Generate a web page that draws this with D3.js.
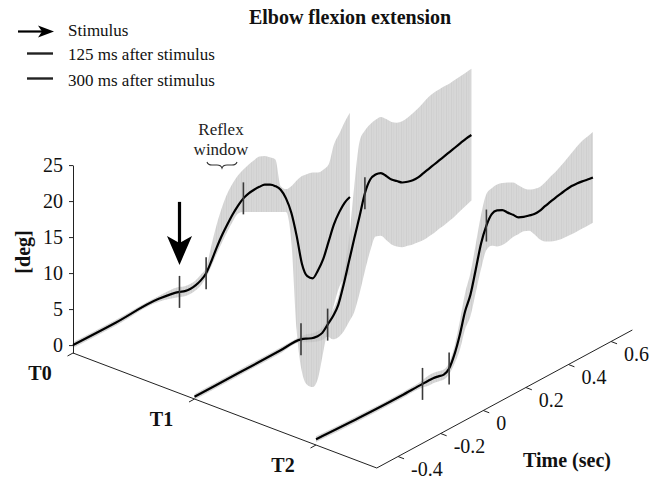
<!DOCTYPE html>
<html><head><meta charset="utf-8">
<script src="https://cdn.jsdelivr.net/npm/d3@7/dist/d3.min.js"></script>
<style>
body{margin:0;background:#fff}
svg{display:block}
</style>
</head><body>
<svg id="c" width="662" height="481" font-family="'Liberation Serif', 'DejaVu Serif', serif"></svg>
<script>
// ---------- data ----------
const times = [-0.5,-0.3,-0.1,0,0.025,0.05,0.075,0.1,0.125,0.15,0.175,0.2,0.225,0.25,0.275,0.3,0.325,0.35,0.375,0.4,0.425,0.45,0.475,0.5,0.525,0.55,0.575,0.6,0.625,0.65,0.675,0.7,0.725,0.75,0.775,0.8];

const meanT0  = [0,-0.1,0,-0.6,-0.9,-1.0,-0.9,-0.6,0,1.3,2.8,4.1,5.2,6.2,7.0,7.6,7.9,8.0,8.0,7.9,7.5,6.9,6.0,4.4,2.0,-1.6,-5.9,-8.0,-8.7,-8.0,-6.8,-4.8,-2.8,-1.5,-0.6,-0.2];
const upperT0 = [0.4,0.3,0.4,0.1,-0.2,-0.3,-0.2,0.2,0.8,3.5,6.0,8.0,9.5,10.5,11.2,11.6,11.9,12.1,12.2,11.9,11.3,10.6,6.5,5.7,5.7,6.1,6.3,6.2,6.0,5.6,5.6,5.9,8.3,9.4,10.6,11.5];
const lowerT0 = [-0.4,-0.5,-0.4,-1.3,-1.6,-1.7,-1.6,-1.3,-0.6,0.6,1.9,3.1,4.2,5.2,5.9,5.7,5.3,4.9,4.5,4.1,3.7,3.3,2.9,2.5,-2.0,-14.7,-20.9,-23.1,-23.8,-23.0,-19.7,-16.4,-14.0,-11.9,-11.0,-11.0];

const meanT1  = [-0.8,-0.8,-0.8,-0.8,-1.1,-1.45,-1.6,-1.5,-0.75,0.0,1.2,3.6,6.4,9.2,11.9,14.7,16.2,16.5,16.3,15.5,14.6,14.0,13.4,13.1,12.9,12.9,13.1,13.3,13.5,13.7,13.9,14.1,14.3,14.5,14.7,14.8];
const upperT1 = [-0.4,-0.4,-0.4,-0.4,-0.5,-0.8,-0.9,-0.8,0.0,0.9,2.3,5.1,9.4,16.5,22.3,23.4,23.9,24.1,24.1,23.4,22.6,22.1,21.9,22.0,22.2,22.5,22.9,23.3,23.5,23.55,23.6,23.6,23.7,23.8,23.9,24.0];
const lowerT1 = [-1.2,-1.2,-1.2,-1.2,-1.6,-2.0,-2.3,-2.5,-2.4,-3.2,-3.3,-2.9,-2.0,-1.0,1.2,3.9,6.3,7.9,7.6,6.6,5.6,4.9,4.4,4.2,4.0,3.9,3.8,3.9,4.0,4.2,4.35,4.55,4.8,5.1,5.4,5.7];

const meanT2  = [-0.3,-0.55,-0.65,-0.6,-0.6,-0.6,-0.75,-0.9,-0.45,1.1,3.4,6.3,8.2,11.3,14.5,16.6,17.8,17.9,17.55,16.8,16.1,15.35,15.0,14.8,14.6,14.65,14.9,15.1,15.3,15.45,15.6,15.7,15.65,15.55,15.4,15.3];
const upperT2 = [0.1,-0.15,-0.25,-0.1,0.1,0.1,-0.05,-0.2,0.35,2.2,5.3,8.8,11.2,14.8,18.5,21.0,21.4,21.5,21.3,21.0,20.6,19.8,19.0,18.4,18.1,17.95,18.2,18.6,18.9,19.3,19.8,20.3,20.8,21.2,21.4,21.6];
const lowerT2 = [-0.7,-0.95,-1.05,-1.1,-1.3,-1.3,-1.45,-1.6,-1.25,-0.2,1.3,3.8,5.2,8.1,11.0,13.2,13.4,12.9,12.7,12.8,13.0,13.0,13.0,12.7,11.8,10.7,10.0,9.6,9.3,9.1,9.05,9.0,9.0,9.0,9.0,9.0];

const trialLabels = ["T0","T1","T2"];
const trialIndex  = [0,1,2];
const zTicks      = [0,5,10,15,20,25];
const timeTicks   = [-0.4,-0.2,0,0.2,0.4,0.6];
const markerTimes = [0,0.125,0.3];
const legendLabels = ["Stimulus","125 ms after stimulus","300 ms after stimulus"];
const titleText = "Elbow flexion extension";

const means  = [meanT0, meanT1, meanT2];
const uppers = [upperT0, upperT1, upperT2];
const lowers = [lowerT0, lowerT1, lowerT2];

const FONT = "'Liberation Serif', 'DejaVu Serif', serif";

// ---------- oblique 3-D projection built from linear scales ----------
const tX = d3.scaleLinear().domain([-0.5,0.7]).range([0,255.6]);
const tY = d3.scaleLinear().domain([-0.5,0.7]).range([0,-138]);
const kX = d3.scaleLinear().domain([0,2.5]).range([73,376.75]);
const kY = d3.scaleLinear().domain([0,2.5]).range([353,468]);
const zS = d3.scaleLinear().domain([-1.1,25]).range([0,-187.92]);
const PX = (t,k) => kX(k) + tX(t);
const PY = (t,k,z) => kY(k) + tY(t) + zS(z);
const T_MIN = -0.5, T_MAX = 0.7, K_MAX = 2.5, Z_MIN = -1.1;

const svg = d3.select("#c");
const defs = svg.append("defs");
const pat = defs.append("pattern").attr("id","hatch").attr("patternUnits","userSpaceOnUse")
  .attr("width",5).attr("height",20);
pat.append("rect").attr("width",5).attr("height",20).attr("fill","#c7c7c7");
pat.append("rect").attr("x",1).attr("width",0.8).attr("height",20).attr("fill","#b9b9b9");
pat.append("rect").attr("x",3.5).attr("width",0.6).attr("height",20).attr("fill","#bebebe");

// ---------- bands ----------
const gBands = svg.append("g");
trialIndex.forEach((k,i) => {
  const rows = times.map((t,j) => ({t, m: means[i][j], u: uppers[i][j], l: lowers[i][j]}));
  const area = d3.area().curve(d3.curveMonotoneX)
    .x(d => PX(d.t,k)).y0(d => PY(d.t,k,d.l)).y1(d => PY(d.t,k,d.u));
  gBands.append("path").attr("d", area(rows))
    .attr("fill","url(#hatch)").attr("fill-opacity",0.72);
});

// ---------- axes ----------
const gAx = svg.append("g").attr("stroke","#222").attr("stroke-width",1).attr("fill","none");
gAx.append("line")
  .attr("x1",PX(T_MIN,0)).attr("y1",PY(T_MIN,0,Z_MIN))
  .attr("x2",PX(T_MIN,K_MAX)).attr("y2",PY(T_MIN,K_MAX,Z_MIN));
gAx.append("line")
  .attr("x1",PX(T_MIN,K_MAX)).attr("y1",PY(T_MIN,K_MAX,Z_MIN))
  .attr("x2",PX(T_MAX,K_MAX)).attr("y2",PY(T_MAX,K_MAX,Z_MIN));
trialIndex.forEach(k => {
  const x = PX(T_MIN,k), y = PY(T_MIN,k,Z_MIN);
  gAx.append("line").attr("x1",x).attr("y1",y).attr("x2",x-5.5).attr("y2",y+3);
});
timeTicks.forEach(t => {
  const x = PX(t,K_MAX), y = PY(t,K_MAX,Z_MIN);
  gAx.append("line").attr("x1",x).attr("y1",y).attr("x2",x+6).attr("y2",y+2.3);
});
const zAxisScale = d3.scaleLinear().domain([Z_MIN,25]).range([PY(T_MIN,0,Z_MIN), PY(T_MIN,0,25)]);
const zAxis = svg.append("g").attr("transform",`translate(${PX(T_MIN,0)},0)`)
  .call(d3.axisLeft(zAxisScale).tickValues(zTicks).tickSize(4).tickSizeOuter(0).tickPadding(6));
zAxis.attr("font-family",FONT).attr("font-size",20);
zAxis.selectAll("path,line").attr("stroke","#222");
zAxis.selectAll("text").attr("fill","#111");

// axis labels
const lab = svg.append("g").attr("fill","#111");
trialIndex.forEach((k,i) => {
  lab.append("text").attr("x",PX(T_MIN,k)-33).attr("y",PY(T_MIN,k,Z_MIN)+22)
    .attr("text-anchor","middle").attr("dominant-baseline","middle")
    .attr("font-size",20).attr("font-weight","bold").text(trialLabels[i]);
});
timeTicks.forEach(t => {
  lab.append("text").attr("x",PX(t,K_MAX)+13).attr("y",PY(t,K_MAX,Z_MIN)+15)
    .attr("dominant-baseline","middle").attr("font-size",20)
    .text(t < 0 ? "-" + Math.abs(t) : String(t));
});
lab.append("text").attr("x",567).attr("y",467).attr("text-anchor","middle")
  .attr("font-size",20).attr("font-weight","bold").text("Time (sec)");
lab.append("text").attr("transform","translate(30,252) rotate(-90)").attr("text-anchor","middle")
  .attr("font-size",20).attr("font-weight","bold").text("[deg]");

// ---------- mean curves ----------
const gLines = svg.append("g");
trialIndex.forEach((k,i) => {
  const rows = times.map((t,j) => ({t, m: means[i][j]}));
  const line = d3.line().curve(d3.curveMonotoneX).x(d => PX(d.t,k)).y(d => PY(d.t,k,d.m));
  gLines.append("path").attr("d", line(rows)).attr("fill","none")
    .attr("stroke","#000").attr("stroke-width",2.2).attr("stroke-linejoin","round");
});

// ---------- event markers ----------
const gMk = svg.append("g").attr("stroke","#3a3a3a").attr("stroke-width",1.6);
trialIndex.forEach((k,i) => {
  const interp = d3.scaleLinear().domain(times).range(means[i]);
  markerTimes.forEach(mt => {
    const x = PX(mt,k), y = PY(mt,k,interp(mt));
    gMk.append("line").attr("x1",x).attr("x2",x).attr("y1",y-16).attr("y2",y+16);
  });
});

// ---------- stimulus arrow ----------
{
  const x = PX(0,0), y = PY(0,0,meanT0[times.indexOf(0)]);
  const tip = y - 27, top = y - 90;
  svg.append("rect").attr("x",x-1.6).attr("y",top).attr("width",3.2).attr("height",tip-top-10).attr("fill","#000");
  svg.append("path").attr("fill","#000")
    .attr("d",`M${x},${tip} L${x-12.5},${tip-29} L${x},${tip-22} L${x+12.5},${tip-29} Z`);
}

// ---------- reflex window annotation ----------
const ann = svg.append("g").attr("fill","#222").attr("font-size",17);
ann.append("text").attr("x",221).attr("y",135).attr("text-anchor","middle").text("Reflex");
ann.append("text").attr("x",221).attr("y",155).attr("text-anchor","middle").text("window");
svg.append("path").attr("fill","none").attr("stroke","#333").attr("stroke-width",1.1)
  .attr("d","M207,162 q1,3 5,3 h5 q4,0 5,3 q1,-3 5,-3 h5 q4,0 5,-3");

// ---------- legend ----------
const lg = svg.append("g");
lg.append("line").attr("x1",18).attr("x2",44).attr("y1",31.5).attr("y2",31.5).attr("stroke","#000").attr("stroke-width",2.2);
lg.append("path").attr("fill","#000").attr("d","M54,31.5 L38,25.5 L42,31.5 L38,37.5 Z");
lg.append("line").attr("x1",27).attr("x2",53).attr("y1",53.5).attr("y2",53.5).attr("stroke","#222").attr("stroke-width",2.4);
lg.append("line").attr("x1",27).attr("x2",53).attr("y1",78.5).attr("y2",78.5).attr("stroke","#222").attr("stroke-width",2.4);
[36,60,86].forEach((yy,i) => {
  lg.append("text").attr("x",68).attr("y",yy).attr("font-size",17).attr("fill","#111").text(legendLabels[i]);
});

// title
svg.append("text").attr("x",350).attr("y",24).attr("text-anchor","middle").attr("fill","#111")
  .attr("font-size",20).attr("font-weight","bold").text(titleText);
</script>
</body></html>
